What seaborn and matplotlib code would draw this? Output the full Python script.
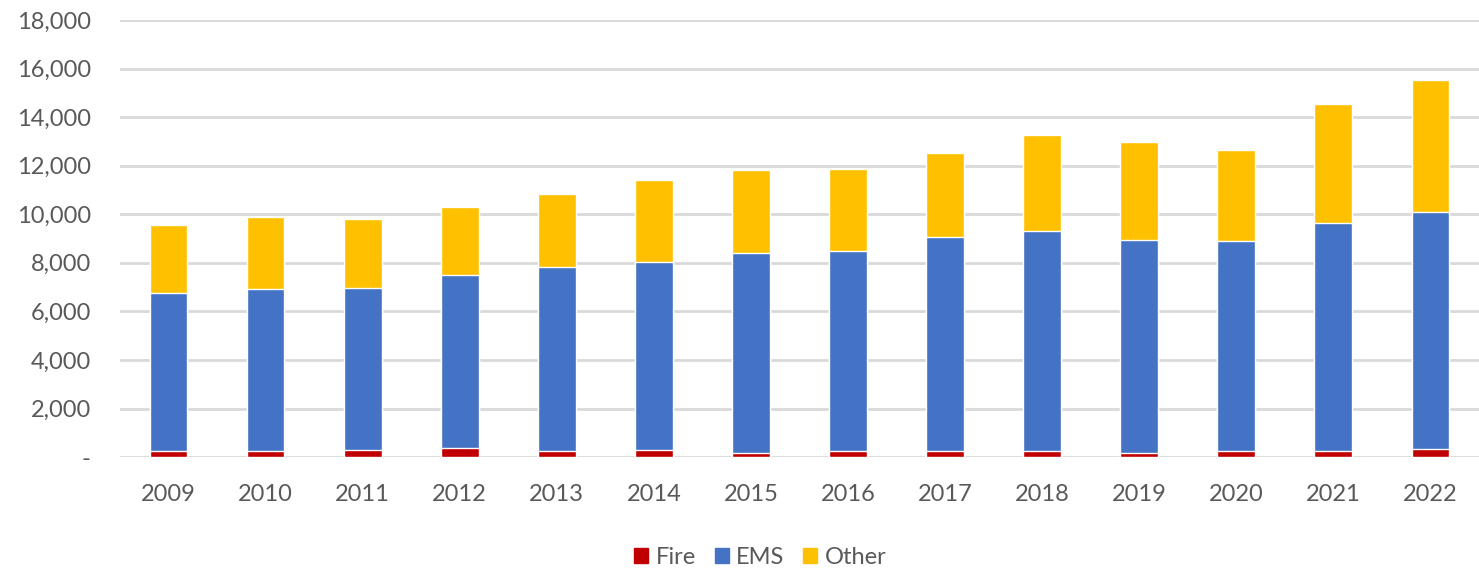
import numpy as np
import pandas as pd
import seaborn as sns
import matplotlib.pyplot as plt
from matplotlib.patches import Patch
from matplotlib.ticker import FuncFormatter

years = ['2009', '2010', '2011', '2012', '2013', '2014', '2015',
         '2016', '2017', '2018', '2019', '2020', '2021', '2022']
fire = [240, 240, 310, 380, 240, 310, 180, 240, 240, 240, 170, 240, 240, 320]
ems = [6500, 6690, 6670, 7100, 7570, 7730, 8240, 8250, 8820, 9080, 8780, 8640, 9390, 9770]
other = [2810, 2940, 2820, 2830, 3010, 3350, 3400, 3380, 3460, 3950, 4010, 3760, 4890, 5450]

c_fire = '#C00000'
c_ems = '#4472C4'
c_other = '#FFC000'

df = pd.DataFrame({'year': years, 'Fire': fire, 'EMS': ems, 'Other': other})
df['fire_ems'] = df['Fire'] + df['EMS']
df['total'] = df['fire_ems'] + df['Other']

sns.set_style('white')
plt.rcParams['font.family'] = ['Lato', 'DejaVu Sans']

fig = plt.figure(figsize=(14.79, 5.70), dpi=100)
ax = fig.add_axes([0.0811, 0.198, 0.9189, 0.767])

ax.set_axisbelow(True)
ax.yaxis.grid(True, color='#d9d9d9', linewidth=2)

# stacked bars: draw the cumulative heights on top of each other
sns.barplot(data=df, x='year', y='total', color=c_other, saturation=1, width=0.39, ax=ax)
sns.barplot(data=df, x='year', y='fire_ems', color=c_ems, saturation=1, width=0.39, ax=ax)
sns.barplot(data=df, x='year', y='Fire', color=c_fire, saturation=1, width=0.39, ax=ax)

ax.set_ylim(0, 18000)
ax.set_xlim(-0.5, len(years) - 0.5)
ax.set_yticks(range(0, 18001, 2000))
ax.yaxis.set_major_formatter(FuncFormatter(lambda v, p: '-' if v == 0 else f'{int(v):,}'))
ax.set_xlabel('')
ax.set_ylabel('')
ax.tick_params(axis='both', length=0, labelsize=17, colors='#595959')
ax.tick_params(axis='x', pad=19)
ax.tick_params(axis='y', pad=21)
for lab in ax.get_yticklabels():
    lab.set_horizontalalignment('right')
sns.despine(ax=ax, left=True, right=True, top=True, bottom=True)

handles = [Patch(color=c_fire, label='Fire'),
           Patch(color=c_ems, label='EMS'),
           Patch(color=c_other, label='Other')]
fig.legend(handles=handles, loc='center', bbox_to_anchor=(0.514, 0.022),
           ncol=3, frameon=False, fontsize=17, handlelength=0.6, handleheight=0.6,
           handletextpad=0.3, columnspacing=0.8, labelcolor='#595959')

fig.savefig('out.png', dpi=100)
